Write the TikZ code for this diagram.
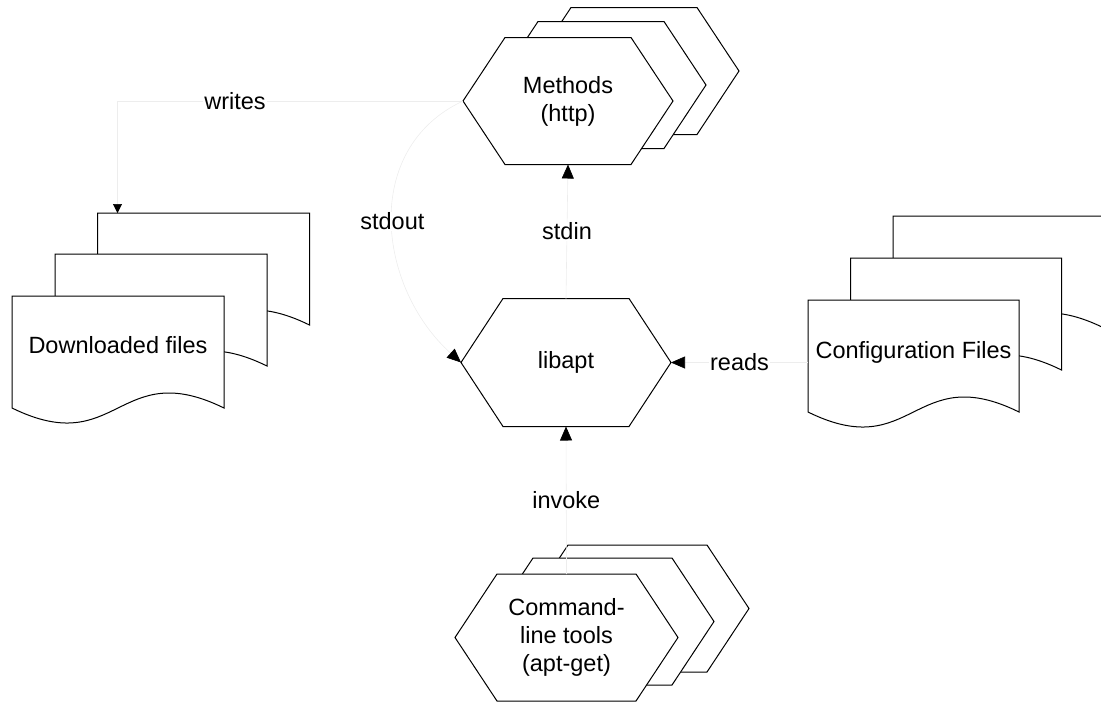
\documentclass[tikz,border=0pt]{standalone}
\usepackage{fontspec}
\setmainfont{Liberation Sans}
\usetikzlibrary{calc,arrows.meta}

% outline of a hexagon built on the anchors of a (blank) node
\newcommand{\hexoutline}[1]{%
  \filldraw[shapeline] (#1.west) -- ($(#1.north west)+(42,0)$) -- ($(#1.north east)+(-42,0)$)
    -- (#1.east) -- ($(#1.south east)+(-42,0)$) -- ($(#1.south west)+(42,0)$) -- cycle;}
% outline of a document sheet with a wavy lower edge
\newcommand{\docoutline}[1]{%
  \filldraw[shapeline] (#1.south west) -- (#1.north west) -- (#1.north east) -- (#1.south east)
    .. controls ($(#1.south)+(0,-52)$) and ($(#1.south)+(0,52)$) .. (#1.south west) -- cycle;}

\tikzset{
  x=1pt, y=-1pt,
  txt/.style={font=\fontsize{23.5}{28}\selectfont, align=center, inner sep=0pt},
  geom/.style={inner sep=0pt, outer sep=0pt},
  hexnode/.style={geom, minimum width=210pt, minimum height=127pt},
  docnode/.style={geom, minimum width=212pt, minimum height=112pt},
  shapeline/.style={draw=black, fill=white, line width=1pt, line join=miter},
  conn/.style={draw=black!7, line width=0.6pt},
  headed/.style={-{Triangle[length=14pt,width=12pt,color=black]}},
  smallhead/.style={-{Triangle[length=9pt,width=9pt,color=black]}},
  lbl/.style={txt, fill=white, inner sep=1pt},
}

\begin{document}
\begin{tikzpicture}
\useasboundingbox (0,0) rectangle (1101,702);

% ---- geometry of every shape (blank nodes) ----
\node[hexnode] (meth3) at (634,71) {};
\node[hexnode] (meth2) at (601,85) {};
\node[hexnode] (meth)  at (568,101) {};

\node[hexnode, minimum height=128pt] (lib) at (566,362.5) {};

\node[hexnode, minimum width=223pt] (cmd3) at (637.5,608.5) {};
\node[hexnode, minimum width=223pt] (cmd2) at (602.5,621.5) {};
\node[hexnode, minimum width=223pt] (cmd)  at (566.5,637.5) {};

\node[docnode] (dl3) at (203.5,269) {};
\node[docnode] (dl2) at (161,310) {};
\node[docnode] (dl)  at (118,352) {};

\node[docnode, minimum width=211pt] (cfg3) at (998.5,272) {};
\node[docnode, minimum width=211pt] (cfg2) at (956,314) {};
\node[docnode, minimum width=211pt] (cfg)  at (913.5,356) {};

% ---- outlines, back sheets first ----
\hexoutline{meth3}\hexoutline{meth2}\hexoutline{meth}
\hexoutline{lib}
\hexoutline{cmd3}\hexoutline{cmd2}\hexoutline{cmd}
\docoutline{dl3}\docoutline{dl2}\docoutline{dl}
\docoutline{cfg3}\docoutline{cfg2}\docoutline{cfg}

% ---- texts ----
\node[txt] (methtext) at (meth) {Methods\\(http)};
\node[txt] (libtext) at (lib) {libapt};
\node[txt] (cmdtext) at (cmd) {Command-\\line tools\\(apt-get)};
\node[txt] (dltext) at ($(dl.center)+(0,-7)$) {Downloaded files};
\node[txt] (cfgtext) at ($(cfg.center)+(0,-4)$) {Configuration Files};

% ---- connectors ----
\draw[conn, smallhead] (meth.west) -| node[lbl, pos=0.33] (lwrites) {writes}
  ($(dl3.north west)+(20,0)$);
\draw[conn, headed] (meth.west) to[out=205, in=138, looseness=1.1]
  node[lbl] (lstdout) {stdout} (lib.west);
\draw[conn, headed] (lib.north) -- node[lbl] (lstdin) {stdin} (meth.south);
\draw[conn, headed] (lib.east -| cfg.west) -- node[lbl] (lreads) {reads} (lib.east);
\draw[conn, headed] (cmd.north) -- node[lbl] (linvoke) {invoke} (lib.south);
\end{tikzpicture}
\end{document}
